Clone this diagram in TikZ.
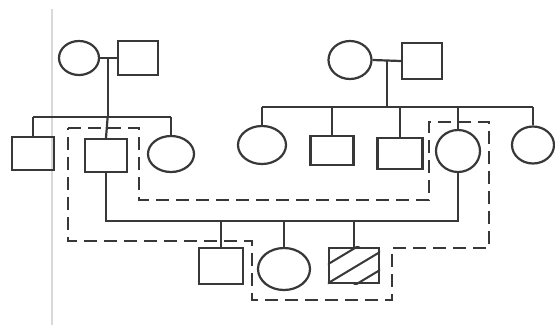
\documentclass[tikz,border=0pt]{standalone}
\usetikzlibrary{shapes.geometric}
\begin{document}
\begin{tikzpicture}[x=1pt,y=-1pt,
  ink/.style={draw=black!78,line width=2.2pt},
  male/.style={ink,rectangle,inner sep=0pt},
  female/.style={ink,ellipse,inner sep=0pt},
  loop/.style={draw=black!78,line width=2.3pt,dash pattern=on 13pt off 7pt},
  rel/.style={draw=black!78,line width=2.2pt}]
\useasboundingbox (0,0) rectangle (555,325);
\fill[white] (0,0) rectangle (555,325);
% faint margin rule
\draw[black!15,line width=1.6pt] (52,9) -- (52,325);

% generation I
\node[female,minimum width=40pt,minimum height=34pt] (I1) at (79,58) {};
\node[male,minimum width=40pt,minimum height=34pt] (I2) at (138,58) {};
\node[female,minimum width=43pt,minimum height=38pt] (I3) at (350,60) {};
\node[male,minimum width=40pt,minimum height=36pt] (I4) at (422,61) {};

% generation II
\node[male,minimum width=42pt,minimum height=33pt] (II1) at (33,153.5) {};
\node[male,minimum width=42pt,minimum height=33pt] (II2) at (106,155.5) {};
\node[female,minimum width=46pt,minimum height=36pt] (II3) at (171,154) {};
\node[female,minimum width=48pt,minimum height=38pt] (II4) at (262,145) {};
\node[male,minimum width=43pt,minimum height=29pt] (II5) at (332,150.5) {};
\node[male,minimum width=45pt,minimum height=31pt] (II6) at (400,153.5) {};
\node[female,minimum width=44pt,minimum height=42pt] (II7) at (458,151) {};
\node[female,minimum width=42pt,minimum height=37pt] (II8) at (533,145) {};

% generation III
\node[male,minimum width=44pt,minimum height=36pt] (III1) at (221,266) {};
\node[female,minimum width=52pt,minimum height=42pt] (III2) at (284,269) {};
\node[male,minimum width=50pt,minimum height=35pt] (III3) at (354,265.5) {};

% hatching of affected individual
\begin{scope}
  \clip (III3.south west) rectangle (III3.north east);
  \foreach \c in {461,480,498}
    \draw[black!78,line width=2pt] (320,\c-192) -- (390,\c-234);
\end{scope}

% left family
\draw[rel] (I1.east) -- (I2.west) coordinate[pos=0.45] (mA);
\coordinate (sA) at (mA |- 0,117);
\draw[rel] (mA) -- (sA);
\coordinate (sA1) at (II1.north |- sA);
\coordinate (sA3) at (II3.north |- sA);
\draw[rel] (sA1) -- (sA3);
\draw[rel] (sA1) -- (II1.north);
\draw[rel] (sA) -- (II2.north);
\draw[rel] (sA3) -- (II3.north);

% right family
\draw[rel] (I3.east) -- (I4.west) coordinate[pos=0.5] (mB);
\coordinate (sB) at (mB |- 0,107);
\draw[rel] (mB) -- (sB);
\coordinate (sB4) at (II4.north |- sB);
\coordinate (sB5) at (II5.north |- sB);
\coordinate (sB6) at (II6.north |- sB);
\coordinate (sB7) at (II7.north |- sB);
\coordinate (sB8) at (II8.north |- sB);
\draw[rel] (sB4) -- (sB8);
\draw[rel] (sB4) -- (II4.north);
\draw[rel] (sB5) -- (II5.north);
\draw[rel] (sB6) -- (II6.north);
\draw[rel] (sB7) -- (II7.north);
\draw[rel] (sB8) -- (II8.north);

% consanguineous marriage and offspring
\coordinate (mL) at (II2.south |- 0,221);
\coordinate (mR) at (II7.south |- 0,221);
\draw[rel] (II2.south) -- (mL) -- (mR) -- (II7.south);
\draw[rel] (III1.north |- mL) -- (III1.north);
\draw[rel] (III2.north |- mL) -- (III2.north);
\draw[rel] (III3.north |- mL) -- (III3.north);

% dashed loop outline
\draw[loop] (68,128) -- (139,128) -- (139,200) -- (429,200) -- (429,122)
  -- (489,122) -- (489,248) -- (392,248) -- (392,300) -- (252,300)
  -- (252,241) -- (68,241) -- cycle;
\end{tikzpicture}
\end{document}
